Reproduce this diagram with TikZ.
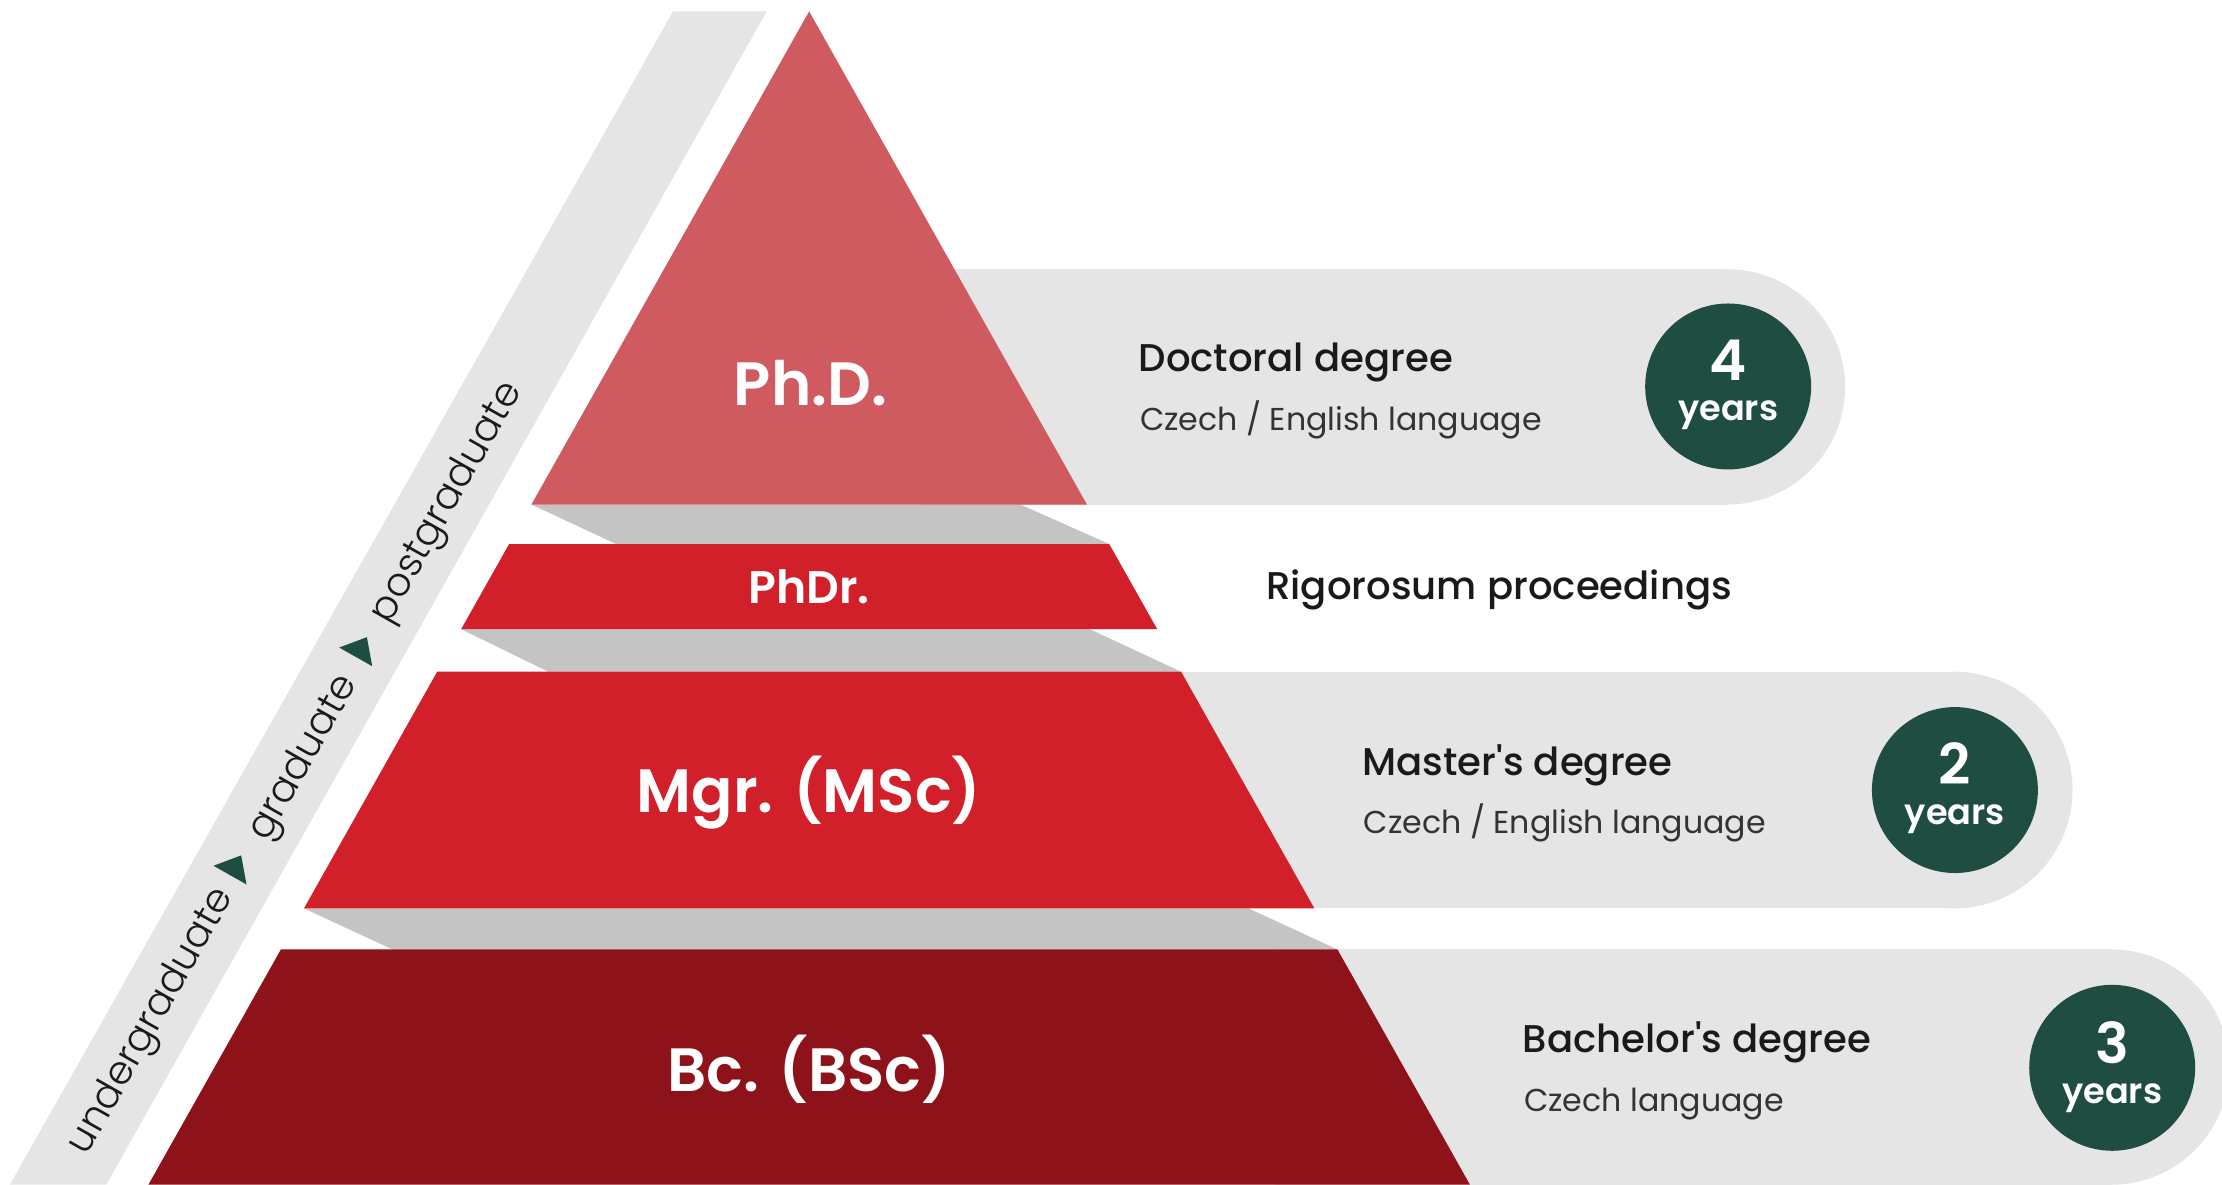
\documentclass[tikz,border=0pt]{standalone}
\usepackage{fontspec}
\setmainfont{Poppins}[BoldFont={Poppins SemiBold},Ligatures=TeXOff]
\newfontfamily\mediumfont{Poppins Medium}[Ligatures=TeXOff]
\newfontfamily\lightfont{Poppins Light}[Ligatures=TeXOff]
\definecolor{phdcol}{HTML}{CF5A5F}
\definecolor{mgrcol}{HTML}{D2202A}
\definecolor{bccol}{HTML}{8E1219}
\definecolor{shadecol}{HTML}{C4C4C4}
\definecolor{bandcol}{HTML}{E5E5E5}
\definecolor{circcol}{HTML}{1F4D42}
\definecolor{inkcol}{HTML}{1A1A1A}
\definecolor{subcol}{HTML}{333333}
\begin{document}
\begin{tikzpicture}[x=0.014171cm,y=-0.014171cm,
  tierlabel/.style={text=white,font=\fontsize{17.4}{20}\selectfont\bfseries,anchor=base,inner sep=0pt},
  smalltier/.style={text=white,font=\fontsize{13}{15}\selectfont\bfseries,anchor=base,inner sep=0pt},
  degree/.style={text=inkcol,font=\fontsize{11}{13}\mediumfont,anchor=base west,inner sep=0pt},
  lang/.style={text=subcol,font=\fontsize{9}{11}\selectfont,anchor=base west,inner sep=0pt},
  yearcirc/.style={circle,fill=circcol,minimum size=1.66cm,inner sep=0pt},
  digit/.style={text=white,font=\fontsize{16}{19}\selectfont\bfseries,anchor=base,inner sep=0pt},
  yearword/.style={text=white,font=\fontsize{10}{12}\selectfont\bfseries,anchor=base,inner sep=0pt},
  levelword/.style={text=inkcol,font=\fontsize{11.2}{13}\lightfont,rotate=60.52,inner sep=0pt},
  marker/.style={fill=circcol}]
\useasboundingbox (0,0) rectangle (1568,836);
\clip (0,0) rectangle (1568,836);
% left level band
\fill[bandcol] (475,8) -- (541,8) -- (75,836) -- (7,836) -- cycle;
% info bands
\fill[bandcol] (650,190) rectangle (1219,356);
\fill[bandcol] (1219,273) circle[radius=83];
\fill[bandcol] (800,474) rectangle (1379,641);
\fill[bandcol] (1379,557.5) circle[radius=83.5];
\fill[bandcol] (900,670) rectangle (1490,836);
\fill[bandcol] (1490,753) circle[radius=83];
% shadows
\fill[shadecol] (375,356) -- (720,356) -- (783,384) -- (435,384) -- cycle;
\fill[shadecol] (325.4,444) -- (769,444) -- (833.5,474) -- (387,474) -- cycle;
\fill[shadecol] (214.5,641) -- (881,641) -- (943.8,670) -- (277,670) -- cycle;
% tiers
\fill[phdcol] (571,8) -- (767,356) -- (375,356) -- cycle;
\fill[mgrcol] (359.2,384) -- (782.8,384) -- (816.6,444) -- (325.4,444) -- cycle;
\fill[mgrcol] (308.5,474) -- (833.5,474) -- (927.5,641) -- (214.5,641) -- cycle;
\fill[bccol] (198.2,670) -- (943.8,670) -- (1037.3,836) -- (104.7,836) -- cycle;
% tier labels
\node[tierlabel] (phd) at (572,286.3) {Ph.D.};
\node[smalltier] (phdr) at (571,425.7) {PhDr.};
\node[tierlabel] (mgr) at (571,573.6) {Mgr. (MSc)};
\node[tierlabel] (bc) at (571,770) {Bc. (BSc)};
% right texts
\node[degree] (doc) at (803,262.3) {Doctoral degree};
\node[lang] (doclang) at (804,303.5) {Czech / English language};
\node[degree] (rig) at (893,422.7) {Rigorosum proceedings};
\node[degree] (mas) at (961,547.3) {Master's degree};
\node[lang] (maslang) at (962,588) {Czech / English language};
\node[degree] (bac) at (1074,742.6) {Bachelor's degree};
\node[lang] (baclang) at (1075,784.5) {Czech language};
% year circles
\node[yearcirc] (c1) at (1219.5,272.7) {};
\node[digit] (n1) at (1219.5,268.5) {4};
\node[yearword] (y1) at (1219.5,297) {years};
\node[yearcirc] (c2) at (1379.5,557.5) {};
\node[digit] (n2) at (1379.5,553.5) {2};
\node[yearword] (y2) at (1379.5,582) {years};
\node[yearcirc] (c3) at (1490.5,753.5) {};
\node[digit] (n3) at (1490.5,750.5) {3};
\node[yearword] (y3) at (1490.5,778.5) {years};
% level words
\node[levelword] (ug) at (107.5,721) {undergraduate};
\node[levelword] (gr) at (215,535) {graduate};
\node[levelword] (pg) at (316,355) {postgraduate};
\fill[marker,shift={(166,611)},rotate=60.52] (8.5,0) -- (-7.5,13.4) -- (-7.5,-13.4) -- cycle;
\fill[marker,shift={(254.7,457)},rotate=60.52] (8.5,0) -- (-7.5,13.4) -- (-7.5,-13.4) -- cycle;
\end{tikzpicture}
\end{document}
